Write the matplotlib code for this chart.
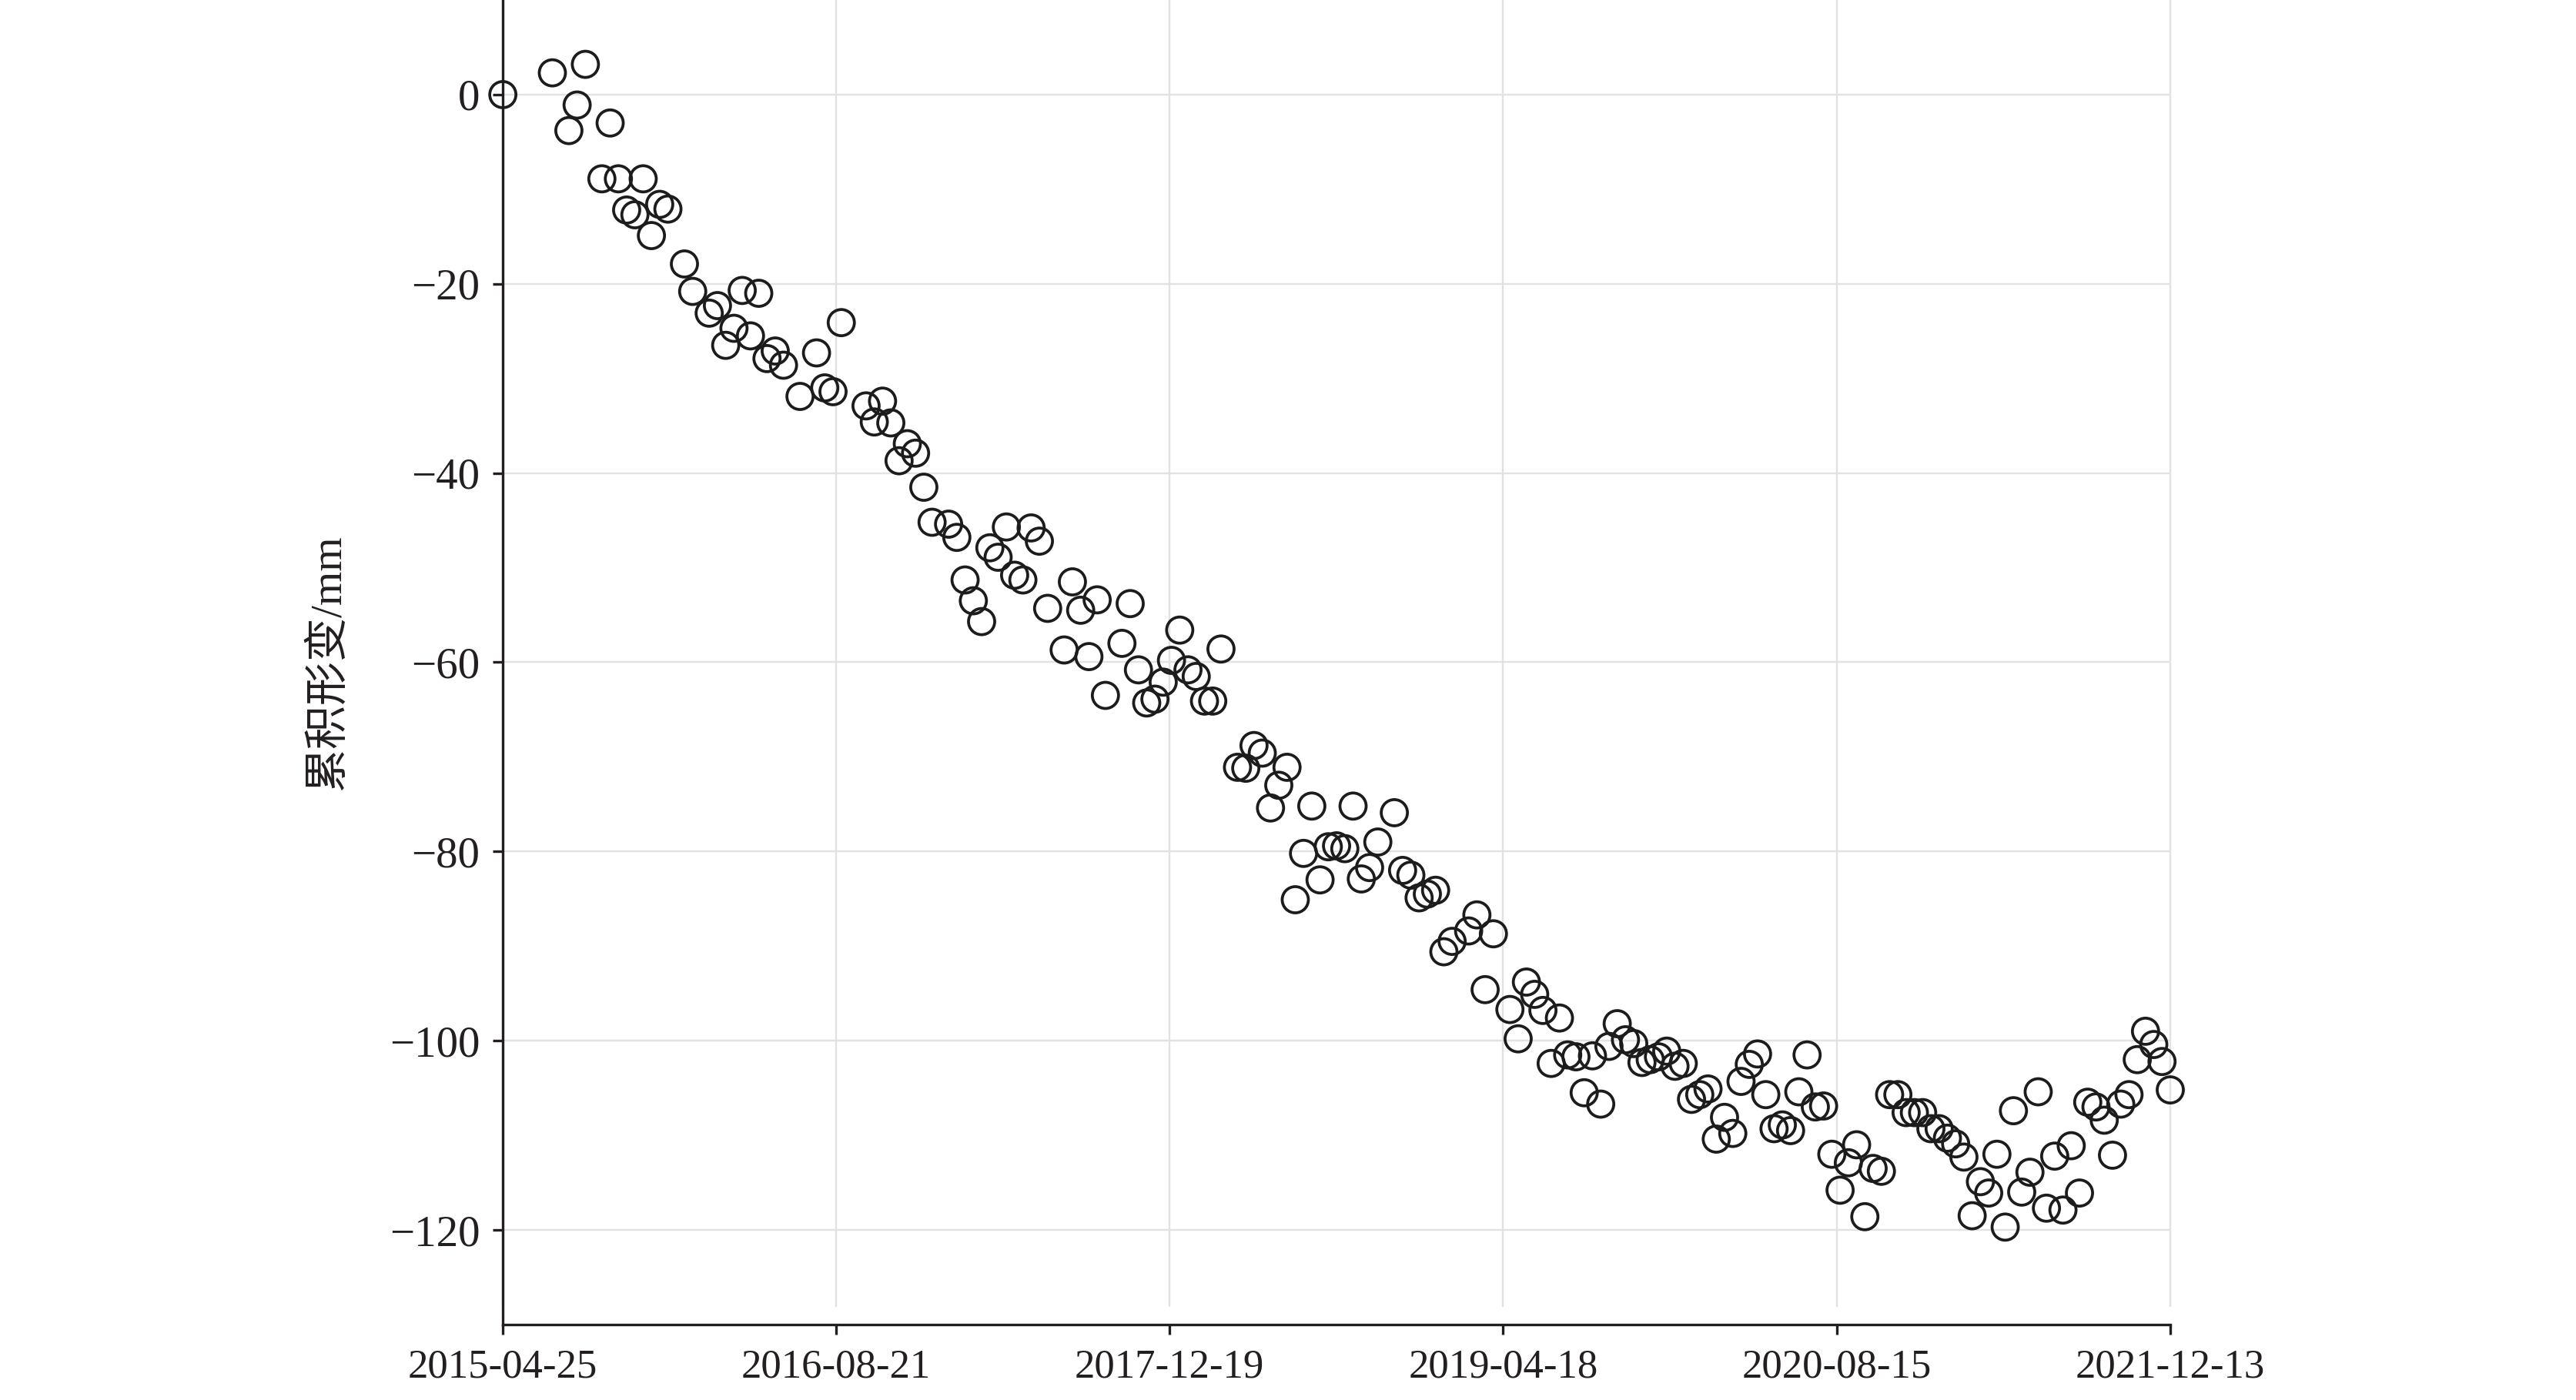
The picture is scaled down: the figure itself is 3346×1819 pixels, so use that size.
import numpy as np
import pandas as pd
import matplotlib
matplotlib.use("Agg")
import matplotlib.pyplot as plt

plt.rcParams['font.family'] = ['Liberation Serif', 'Noto Sans CJK SC', 'DejaVu Sans']
plt.rcParams['axes.unicode_minus'] = True

start_date = "2015-04-25"
end_date = "2021-12-13"

# acquisition day offsets from start_date (12-day cadence, with gaps)
day_offset = [
    0, 72, 96, 108, 120, 144, 156, 168, 180, 192, 204, 216, 228, 240, 264, 276,
    300, 312, 324, 336, 348, 360, 372, 384, 396, 408, 432, 456, 468, 480, 492,
    528, 540, 552, 564, 576, 588, 600, 612, 624, 648, 660, 672, 684, 696, 708,
    720, 732, 744, 756, 768, 780, 792, 816, 828, 840, 852, 864, 876, 900, 912,
    924, 936, 948, 960, 972, 984, 996, 1008, 1020, 1032, 1044, 1068, 1080, 1092,
    1104, 1116, 1128, 1140, 1152, 1164, 1176, 1188, 1200, 1212, 1224, 1236, 1248,
    1260, 1272, 1296, 1308, 1320, 1332, 1344, 1356, 1368, 1380, 1404, 1416, 1428,
    1440, 1464, 1476, 1488, 1500, 1512, 1524, 1536, 1548, 1560, 1572, 1584, 1596,
    1608, 1620, 1632, 1644, 1656, 1668, 1680, 1692, 1704, 1716, 1728, 1740, 1752,
    1764, 1776, 1788, 1800, 1812, 1824, 1836, 1848, 1860, 1872, 1884, 1896, 1908,
    1920, 1932, 1944, 1956, 1968, 1980, 1992, 2004, 2016, 2028, 2040, 2052, 2064,
    2076, 2088, 2100, 2112, 2124, 2136, 2148, 2160, 2172, 2184, 2196, 2208, 2220,
    2232, 2244, 2256, 2268, 2280, 2292, 2304, 2316, 2328, 2340, 2352, 2364, 2376,
    2388, 2400, 2412, 2424,
]

deformation_mm = [
    0.0, 2.3, -3.8, -1.1, 3.2, -8.9, -3.0, -8.9, -12.2, -12.7, -8.9, -14.9, -11.6, -12.1, -17.9, -20.8,
    -23.1, -22.3, -26.5, -24.7, -20.7, -25.5, -21.0, -27.9, -27.1, -28.6, -31.9, -27.3, -31.0, -31.4, -24.1,
    -32.9, -34.6, -32.4, -34.7, -38.7, -36.9, -37.9, -41.5, -45.2, -45.4, -46.8, -51.3, -53.5, -55.7, -47.9,
    -48.9, -45.7, -50.8, -51.3, -45.8, -47.2, -54.3, -58.7, -51.5, -54.5, -59.4, -53.4, -63.5, -58.0, -53.8,
    -60.8, -64.3, -63.9, -62.1, -59.8, -56.6, -60.8, -61.5, -64.1, -64.1, -58.6, -71.1, -71.2, -68.8,
    -69.6, -75.4, -73.0, -71.1, -85.1, -80.2, -75.2, -83.0, -79.5, -79.4, -79.7, -75.2, -82.9,
    -81.7, -79.0, -75.9, -82.0, -82.5, -84.9, -84.5, -84.1, -90.6, -89.5, -88.4, -86.7, -94.6,
    -88.7, -96.7, -99.8, -93.8, -95.1, -96.8, -102.4, -97.6, -101.5, -101.7, -105.5, -101.6, -106.7,
    -100.6, -98.2, -99.9, -100.3, -102.3, -102.0, -101.7, -101.1, -102.7, -102.4, -106.2, -105.7, -105.1,
    -110.4, -108.1, -109.8, -104.3, -102.5, -101.4, -105.7, -109.3, -108.9, -109.5, -105.4, -101.5, -107.0,
    -106.9, -112.0, -115.8, -112.9, -111.0, -118.6, -113.5, -113.8, -105.7, -105.7, -107.6, -107.6, -107.6,
    -109.3, -109.3, -110.3, -110.9, -112.3, -118.5, -114.9, -116.1, -112.0, -119.7, -107.4, -116.0, -113.9,
    -105.4, -117.7, -112.2, -117.9, -111.1, -116.1, -106.5, -107.0, -108.4, -112.1, -106.7, -105.7, -102.0,
    -99.0, -100.4, -102.2, -105.2,
]

x_tick_labels = ["2015-04-25", "2016-08-21", "2017-12-19", "2019-04-18", "2020-08-15", "2021-12-13"]
y_ticks = [0, -20, -40, -60, -80, -100, -120]
y_label = "累积形变/mm"

dates = pd.Timestamp(start_date) + pd.to_timedelta(day_offset, unit="D")
tick_dates = pd.to_datetime(x_tick_labels)

ink = '#231f20'
grid_c = '#e2e2e2'

fig = plt.figure(figsize=(16.73, 9.095), dpi=200)
ax = fig.add_axes([0.1952, 0.0539, 0.6473, 0.9461])

ax.set_xlim(pd.Timestamp(start_date), pd.Timestamp(end_date))
ax.set_ylim(-130, 10)

# grid
ax.set_yticks(y_ticks)
ax.yaxis.grid(True, color=grid_c, linewidth=0.85, zorder=0)
ax.set_axisbelow(True)
ax.vlines(tick_dates, -128.1, 10, colors=grid_c, linewidth=0.85, zorder=0, clip_on=False)

ax.scatter(dates, deformation_mm, s=150, facecolors='none', edgecolors='#1c1c1c',
           linewidths=1.35, zorder=3, clip_on=False)

ax.set_xticks(tick_dates)
ax.set_xticklabels(x_tick_labels)
ax.set_yticklabels([f"\u2212{abs(v)}" if v < 0 else str(v) for v in y_ticks])

for s in ['top', 'right']:
    ax.spines[s].set_visible(False)
for s in ['left', 'bottom']:
    ax.spines[s].set_color(ink)
    ax.spines[s].set_linewidth(1.2)

ax.tick_params(axis='both', direction='out', length=4.7, width=1.2, color=ink, labelcolor=ink)
ax.tick_params(axis='y', labelsize=20.5, pad=6)
ax.tick_params(axis='x', labelsize=19, pad=6.5)

ax.set_ylabel(y_label, fontsize=20.5, color=ink, labelpad=19)

fig.savefig("out.png", dpi=200)
